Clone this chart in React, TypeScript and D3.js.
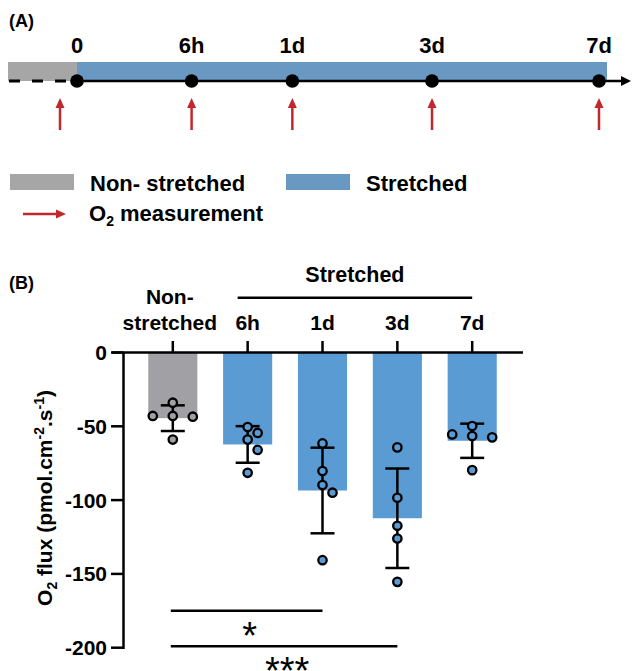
import React from 'react';
import * as d3 from 'd3';

// panel A: timeline
const timeLabels = ['0', '6h', '1d', '3d', '7d'];
const timeHours = [0, 6, 24, 72, 168];

// panel B: O2 flux per group
const groups = ['Non-stretched', '6h', '1d', '3d', '7d'];
const means = [-44.5, -62.3, -93.5, -112.3, -59.8];
const sds = [8.7, 12.4, 29.0, 33.7, 11.6];
const points = [
  [-34, -43, -43.5, -43, -59],
  [-50.5, -54.5, -59, -66, -81.5],
  [-61.6, -80.3, -89.8, -95, -140.7],
  [-64.3, -98.4, -117.4, -126, -155.4],
  [-49.8, -55.5, -56.6, -57.5, -79.7],
];
const yTicks = [0, -50, -100, -150, -200];
const comparisons = [
  { from: 'Non-stretched', to: '1d', label: '*' },
  { from: 'Non-stretched', to: '3d', label: '***' },
];

const GREY = '#a6a6a6';
const BAND_BLUE = '#6998c3';
const BAR_GREY = '#a1a0a5';
const BAR_BLUE = '#5b9bd3';
const RED = '#c1272d';
const FONT = '"Liberation Sans", Arial, sans-serif';

// scatter layout: near-equal values share a row (spread 20px apart),
// the rest go in the middle unless they would overlap a placed point
function scatter(values: number[], y: (v: number) => number) {
  const order = values.map((_, i) => i).sort((a, b) => values[b] - values[a]);
  const out: { dx: number; y: number }[] = new Array(values.length);
  const placed: { dx: number; y: number }[] = [];
  let k = 0;
  while (k < order.length) {
    const row = [order[k]];
    while (k + row.length < order.length && Math.abs(values[order[k + row.length]] - values[row[0]]) < 2.5) {
      row.push(order[k + row.length]);
    }
    if (row.length > 1) {
      row.forEach((idx, r) => {
        const p = { dx: (r - (row.length - 1) / 2) * 20, y: y(values[idx]) };
        out[idx] = p;
        placed.push(p);
      });
    } else {
      const idx = row[0];
      const py = y(values[idx]);
      for (const dx of [0, 10, -10, 20, -20]) {
        if (placed.every(p => Math.hypot(p.dx - dx, p.y - py) >= 10.5)) {
          out[idx] = { dx, y: py };
          placed.push(out[idx]);
          break;
        }
      }
    }
    k += row.length;
  }
  return out;
}

const UpArrow = ({ x, y0, y1 }: { x: number; y0: number; y1: number }) => (
  <g>
    <line x1={x} y1={y0} x2={x} y2={y1 + 8} stroke={RED} strokeWidth={2.5} />
    <polygon points={`${x},${y1} ${x - 4.5},${y1 + 10} ${x + 4.5},${y1 + 10}`} fill={RED} />
  </g>
);

const App = () => {
  const W = 635;
  const H = 671;

  // timeline scale (spacing in the figure is compressed toward later times)
  const tScale = d3.scalePow().exponent(0.455).domain([0, 168]).range([77, 599]);
  const lineY = 81;

  // bar chart scales
  const x = d3.scaleBand<string>().domain(groups).range([122.5, 522.5]).paddingInner(0.344).paddingOuter(0.344);
  const y = d3.scaleLinear().domain([-200, 0]).range([647.7, 352.5]);
  const bw = x.bandwidth();
  const cx = (g: string) => (x(g) as number) + bw / 2;
  const axisX = 123.5;

  return (
    <svg width={W} height={H} style={{ position: 'absolute', left: 0, top: 0, fontFamily: FONT, fontWeight: 'bold' }}>
      <rect width={W} height={H} fill="#fff" />

      {/* ---------- (A) timeline ---------- */}
      <text x={9} y={27} fontSize={18}>(A)</text>
      <rect x={8} y={62} width={tScale(0) - 8} height={lineY - 62} fill={GREY} />
      <rect x={tScale(0)} y={62} width={tScale(168) + 8 - tScale(0)} height={lineY - 62} fill={BAND_BLUE} />
      <line x1={9} y1={lineY} x2={tScale(0)} y2={lineY} stroke="#000" strokeWidth={2.8} strokeDasharray="11,12" />
      <line x1={tScale(0)} y1={lineY} x2={622} y2={lineY} stroke="#000" strokeWidth={2.5} />
      <polygon points={`631,${lineY} 621,${lineY - 5} 621,${lineY + 5}`} fill="#000" />
      {timeHours.map((h, i) => (
        <g key={timeLabels[i]}>
          <circle cx={tScale(h)} cy={lineY} r={6.8} fill="#000" />
          <text x={tScale(h)} y={53} textAnchor="middle" fontSize={22}>{timeLabels[i]}</text>
          <UpArrow x={tScale(h) - (h === 0 ? 17 : 0)} y0={130} y1={98} />
        </g>
      ))}

      {/* legend */}
      <rect x={10} y={174} width={64} height={16} fill={GREY} />
      <text x={90} y={191} fontSize={22}>Non- stretched</text>
      <rect x={286} y={174} width={64} height={16} fill={BAND_BLUE} />
      <text x={366} y={191} fontSize={22}>Stretched</text>
      <line x1={23} y1={214} x2={57} y2={214} stroke={RED} strokeWidth={2.5} />
      <polygon points={`66,214 56,209.5 56,218.5`} fill={RED} />
      <text x={89} y={221} fontSize={22}>
        O<tspan fontSize={14} dy={5}>2</tspan><tspan dy={-5}> measurement</tspan>
      </text>

      {/* ---------- (B) bar chart ---------- */}
      <text x={9} y={289} fontSize={18}>(B)</text>

      {/* header labels */}
      <text x={(cx('6h') - 10 + cx('7d')) / 2} y={282} textAnchor="middle" fontSize={21.5}>Stretched</text>
      <line x1={cx('6h') - 10} y1={297.7} x2={cx('7d')} y2={297.7} stroke="#000" strokeWidth={2.5} />
      <text x={cx('Non-stretched') - 3} y={304} textAnchor="middle" fontSize={21}>Non-</text>
      {groups.map(g => (
        <g key={`lab-${g}`}>
          <text x={cx(g) - (g === 'Non-stretched' ? 3 : 0)} y={330} textAnchor="middle" fontSize={21}>
            {g === 'Non-stretched' ? 'stretched' : g}
          </text>
          <line x1={cx(g)} y1={341} x2={cx(g)} y2={y(0)} stroke="#000" strokeWidth={2.5} />
        </g>
      ))}

      {/* bars */}
      {groups.map((g, i) => (
        <rect
          key={`bar-${g}`}
          x={x(g)}
          y={y(0)}
          width={bw}
          height={y(means[i]) - y(0)}
          fill={i === 0 ? BAR_GREY : BAR_BLUE}
        />
      ))}

      {/* error bars */}
      {groups.map((g, i) => {
        const top = y(means[i] + sds[i]);
        const bot = y(means[i] - sds[i]);
        const c = cx(g);
        return (
          <g key={`err-${g}`} stroke="#000" strokeWidth={2.5}>
            <line x1={c} y1={top} x2={c} y2={bot} />
            <line x1={c - 12} y1={top} x2={c + 12} y2={top} />
            <line x1={c - 12} y1={bot} x2={c + 12} y2={bot} />
          </g>
        );
      })}

      {/* individual points */}
      {groups.map((g, i) => {
        const pos = scatter(points[i], y);
        return pos.map((p, j) => (
          <circle
            key={`pt-${g}-${j}`}
            cx={cx(g) + p.dx}
            cy={p.y}
            r={4.2}
            fill={i === 0 ? BAR_GREY : BAR_BLUE}
            stroke="#000"
            strokeWidth={2.3}
          />
        ));
      })}

      {/* axes */}
      <line x1={112} y1={y(0)} x2={523} y2={y(0)} stroke="#000" strokeWidth={2.5} />
      <line x1={axisX} y1={y(0)} x2={axisX} y2={y(-200) + 1.2} stroke="#000" strokeWidth={2.5} />
      {yTicks.map(t => (
        <g key={`yt-${t}`}>
          <line x1={111} y1={y(t)} x2={axisX} y2={y(t)} stroke="#000" strokeWidth={2.5} />
          <text x={107} y={y(t)} dy="0.36em" textAnchor="end" fontSize={21}>{t}</text>
        </g>
      ))}
      <text transform={`translate(52, 498) rotate(-90)`} textAnchor="middle" fontSize={21}>
        O<tspan fontSize={14} dy={5}>2</tspan>
        <tspan dy={-5}> flux (pmol.cm</tspan>
        <tspan fontSize={14} dy={-8}>-2</tspan>
        <tspan dy={8}>.s</tspan>
        <tspan fontSize={14} dy={-8}>-1</tspan>
        <tspan dy={8}>)</tspan>
      </text>

      {/* significance */}
      {comparisons.map((c, i) => {
        const ly = y(-175) + i * 35.4;
        const x1 = cx(c.from) - 2;
        const x2 = cx(c.to);
        return (
          <g key={`sig-${i}`}>
            <line x1={x1} y1={ly} x2={x2} y2={ly} stroke="#000" strokeWidth={2.5} />
            <text x={(x1 + x2) / 2 + 3} y={ly + 38} textAnchor="middle" fontSize={38} fontWeight="normal">{c.label}</text>
          </g>
        );
      })}
    </svg>
  );
};

export default App;
